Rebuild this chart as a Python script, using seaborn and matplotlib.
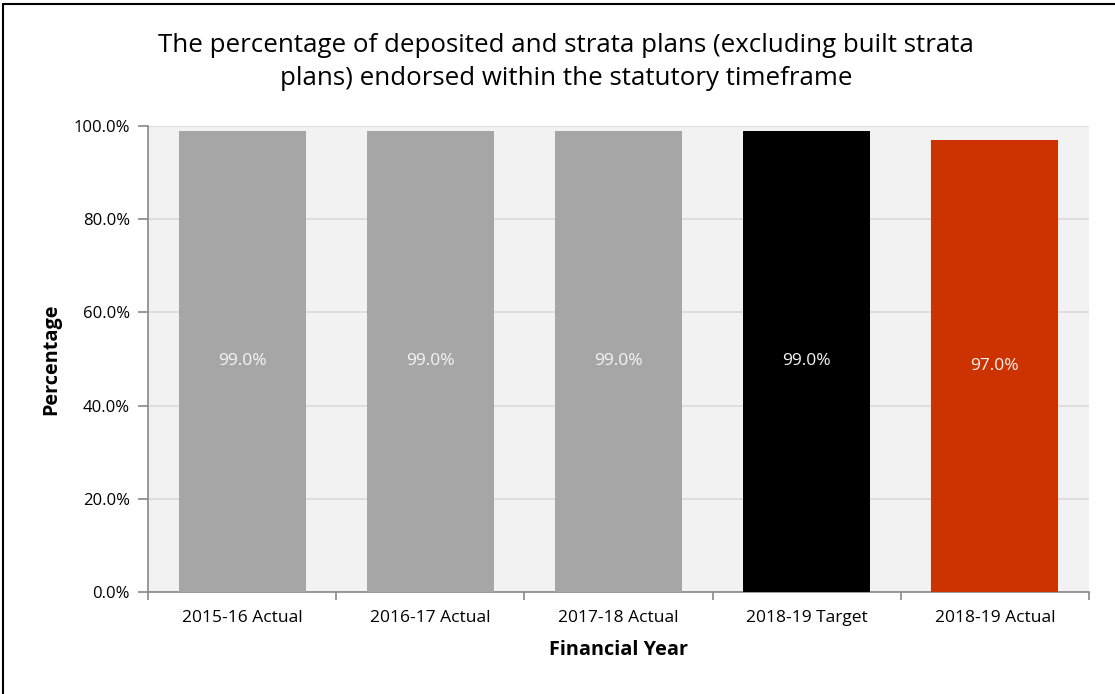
import matplotlib
matplotlib.use("Agg")
import matplotlib.pyplot as plt
from matplotlib.lines import Line2D
from matplotlib.ticker import FuncFormatter, FixedLocator
import seaborn as sns
import pandas as pd

categories = ["2015-16 Actual", "2016-17 Actual", "2017-18 Actual", "2018-19 Target", "2018-19 Actual"]
values = [99.0, 99.0, 99.0, 99.0, 97.0]
bar_colors = ["#a6a6a6", "#a6a6a6", "#a6a6a6", "#000000", "#cc3300"]
value_labels = ["99.0%", "99.0%", "99.0%", "99.0%", "97.0%"]
title = "The percentage of deposited and strata plans (excluding built strata\nplans) endorsed within the statutory timeframe"

sns.set_theme(style="white")
plt.rcParams["font.family"] = ["Open Sans", "DejaVu Sans"]

df = pd.DataFrame({"year": categories, "pct": values})

fig = plt.figure(figsize=(11.15, 6.94), dpi=100)
ax = fig.add_axes([148 / 1115, 1 - 592 / 694, (1089 - 148) / 1115, (592 - 126) / 694])
ax.set_facecolor("#f2f2f2")

sns.barplot(data=df, x="year", y="pct", hue="year", palette=bar_colors,
            legend=False, width=0.675, saturation=1, linewidth=0, ax=ax, zorder=3)

ax.set_ylim(0, 100)
ax.set_xlim(-0.5, len(categories) - 0.5)
ax.yaxis.set_major_locator(FixedLocator([0, 20, 40, 60, 80, 100]))
ax.yaxis.set_major_formatter(FuncFormatter(lambda v, p: f"{v:.1f}%"))
ax.grid(axis="y", color="#d9d9d9", linewidth=1.2, zorder=0)
ax.set_axisbelow(True)

for s in ["top", "right"]:
    ax.spines[s].set_visible(False)
for s in ["left", "bottom"]:
    ax.spines[s].set_color("#888888")
    ax.spines[s].set_linewidth(1.2)

ax.tick_params(axis="y", which="major", length=7, color="#888888", width=1.2,
               direction="out", left=True, labelsize=12, pad=6, labelcolor="#000000")
ax.tick_params(axis="x", which="major", length=0, labelsize=12.5, pad=13, labelcolor="#000000")
ax.set_xticks(range(len(categories)))
ax.set_xticklabels(categories)
ax.set_xticks([i - 0.5 for i in range(len(categories) + 1)], minor=True)
ax.tick_params(axis="x", which="minor", length=6, color="#888888", width=1.2,
               direction="out", bottom=True)

for bar, lab, v in zip(ax.patches, value_labels, values):
    ax.text(bar.get_x() + bar.get_width() / 2, v / 2, lab, ha="center", va="center",
            color="#f5f5f5", fontsize=12.5, zorder=4)

ax.set_xlabel("Financial Year", fontsize=14.3, fontweight="bold", labelpad=10, color="black")
ax.set_ylabel("Percentage", fontsize=14.3, fontweight="bold", labelpad=9, color="black")

fig.text(566 / 1115, 1 - 62 / 694, title, ha="center", va="center",
         fontsize=18.6, linespacing=1.42, color="black")

# chart frame: only the top and left edges fall inside the canvas
x0 = 3 / 1115
y0 = 1 - 4 / 694
fig.add_artist(Line2D([x0, 1.0], [y0, y0], transform=fig.transFigure, color="black", linewidth=1.5))
fig.add_artist(Line2D([x0, x0], [0.0, y0], transform=fig.transFigure, color="black", linewidth=1.5))

fig.savefig("out.png", dpi=100)
